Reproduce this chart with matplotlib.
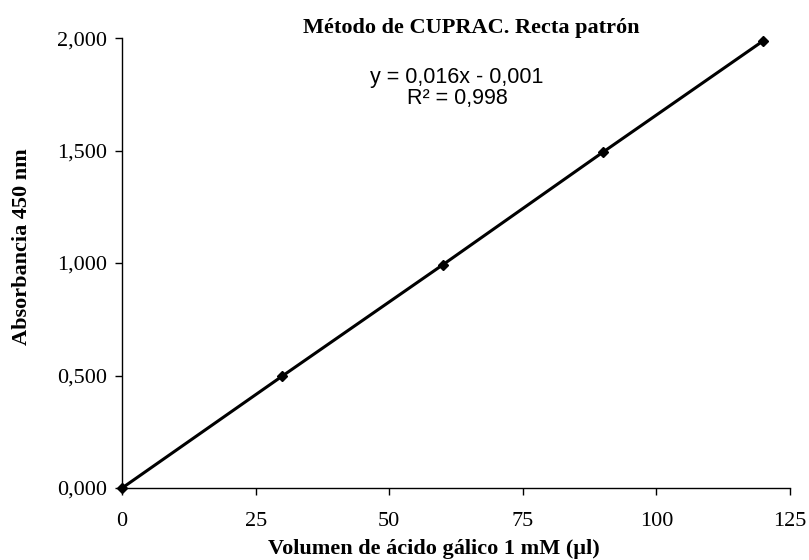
import matplotlib.pyplot as plt
from matplotlib.ticker import FuncFormatter

# data
volumen = [0, 30, 60, 90, 120]
absorbancia = [0.000, 0.498, 0.992, 1.493, 1.988]
x_ticks = [0, 25, 50, 75, 100, 125]
y_ticks = [0.0, 0.5, 1.0, 1.5, 2.0]

fig = plt.figure(figsize=(8.09, 5.6), dpi=100)
ax = fig.add_axes([0.151, 0.1286, 0.8255, 0.8034])

ax.plot(volumen, absorbancia, color='black', linewidth=2.2,
        marker='D', markersize=5, clip_on=False, zorder=3)

ax.set_xlim(0, 125)
ax.set_ylim(0, 2.0)
ax.set_xticks(x_ticks)
ax.set_yticks(y_ticks)
ax.yaxis.set_major_formatter(FuncFormatter(lambda v, p: f"{v:.3f}".replace('.', ',')))

for s in ['top', 'right']:
    ax.spines[s].set_visible(False)
for s in ['left', 'bottom']:
    ax.spines[s].set_linewidth(1.0)
ax.tick_params(direction='out', length=5, width=1, labelsize=16)
ax.tick_params(axis='x', pad=12)
ax.tick_params(axis='y', pad=6)
for lbl in ax.get_xticklabels() + ax.get_yticklabels():
    lbl.set_fontfamily('Liberation Serif')

ax.set_xlabel('Volumen de ácido gálico 1 mM (µl)', fontfamily='Liberation Serif',
              fontweight='bold', fontsize=16, va='center')
ax.set_ylabel('Absorbancia 450 nm', fontfamily='Liberation Serif',
              fontweight='bold', fontsize=16, va='center')
ax.xaxis.set_label_coords(0.467, -0.1356)
ax.yaxis.set_label_coords(-0.1497, 0.5356)

fig.text(0.582, 0.95, 'Método de CUPRAC. Recta patrón', ha='center', va='center',
         fontfamily='Liberation Serif', fontweight='bold', fontsize=16)
fig.text(0.565, 0.843, 'y = 0,016x - 0,001\nR² = 0,998', ha='center', va='center',
         fontfamily='Liberation Sans', fontsize=15.5, linespacing=1.0)

fig.savefig('out.png', dpi=100)
